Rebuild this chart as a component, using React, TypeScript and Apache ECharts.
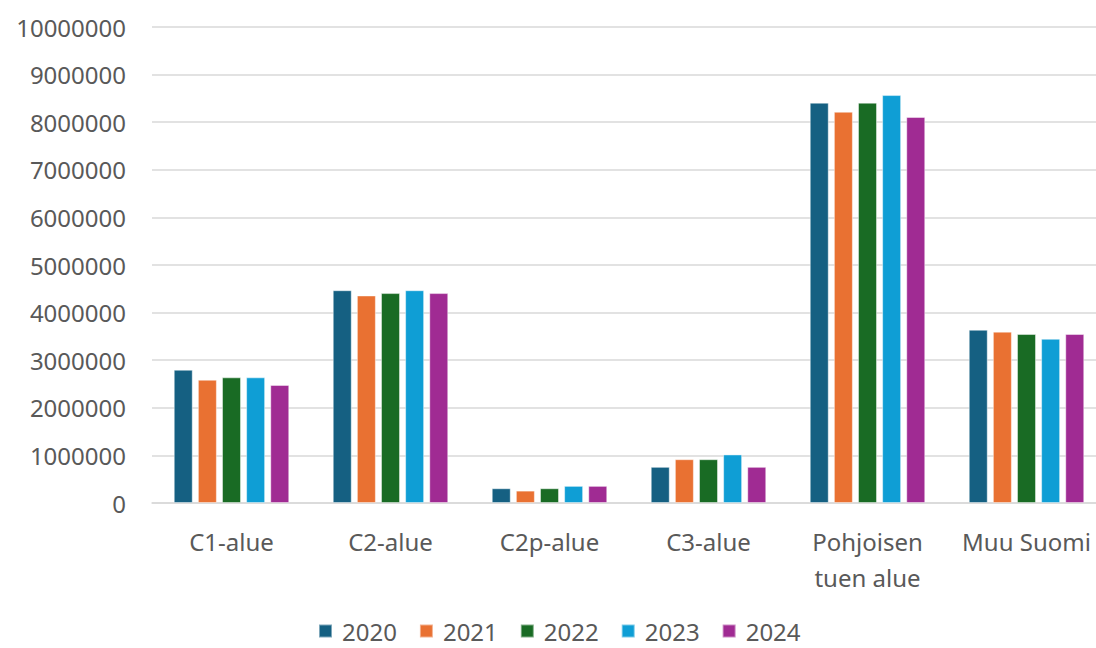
import React, { useEffect, useRef } from "react";
import * as echarts from "echarts";

const categories = ["C1-alue", "C2-alue", "C2p-alue", "C3-alue", "Pohjoisen\ntuen alue", "Muu Suomi"];
const years = ["2020", "2021", "2022", "2023", "2024"];
const v2020 = [2800000, 4470000, 310000, 760000, 8410000, 3640000];
const v2021 = [2590000, 4360000, 260000, 920000, 8220000, 3600000];
const v2022 = [2640000, 4410000, 310000, 920000, 8410000, 3550000];
const v2023 = [2640000, 4470000, 360000, 1020000, 8570000, 3450000];
const v2024 = [2480000, 4410000, 360000, 760000, 8110000, 3550000];
const colors = ["#156082", "#E97132", "#196B24", "#0F9ED5", "#A02B93"];

export default function App() {
  const ref = useRef<HTMLDivElement>(null);
  useEffect(() => {
    if (!ref.current) return;
    const chart = echarts.init(ref.current, undefined, { renderer: "svg" });
    const data = [v2020, v2021, v2022, v2023, v2024];
    const font = "Noto Sans, Liberation Sans, Arial, sans-serif";
    chart.setOption({
      animation: false,
      color: colors,
      grid: { left: 152, right: 0, top: 27, bottom: 145 },
      legend: {
        bottom: 4,
        left: 318,
        padding: 0,
        itemWidth: 13,
        itemHeight: 13,
        itemGap: 22,
        icon: "rect",
        textStyle: { fontSize: 24, lineHeight: 26, color: "#595959", fontFamily: font, padding: [0, 0, 0, 5] },
        data: years,
      },
      xAxis: {
        type: "category",
        data: categories,
        axisLine: { lineStyle: { color: "#d9d9d9", width: 1.5 } },
        axisTick: { show: false },
        axisLabel: { interval: 0, fontSize: 24, color: "#595959", fontFamily: font, lineHeight: 36, margin: 20 },
      },
      yAxis: {
        type: "value",
        min: 0,
        max: 10000000,
        interval: 1000000,
        axisLine: { show: false },
        axisTick: { show: false },
        axisLabel: {
          fontSize: 24,
          color: "#595959",
          fontFamily: font,
          margin: 26,
          formatter: (v: number) => String(v),
        },
        splitLine: { lineStyle: { color: "#d9d9d9", width: 1.5 } },
      },
      series: years.map((y, i) => ({
        name: y,
        type: "bar",
        data: data[i],
        barWidth: 19,
        barGap: "27%",
        itemStyle: { color: colors[i], borderColor: "rgba(255,255,255,0.45)", borderWidth: 1 },
      })),
    });
    return () => chart.dispose();
  }, []);
  return (
    <div style={{ width: 1096, height: 648, position: "absolute", left: 0, top: 0, overflow: "hidden" }}>
      <div ref={ref} style={{ width: 1106, height: 648 }} />
    </div>
  );
}
